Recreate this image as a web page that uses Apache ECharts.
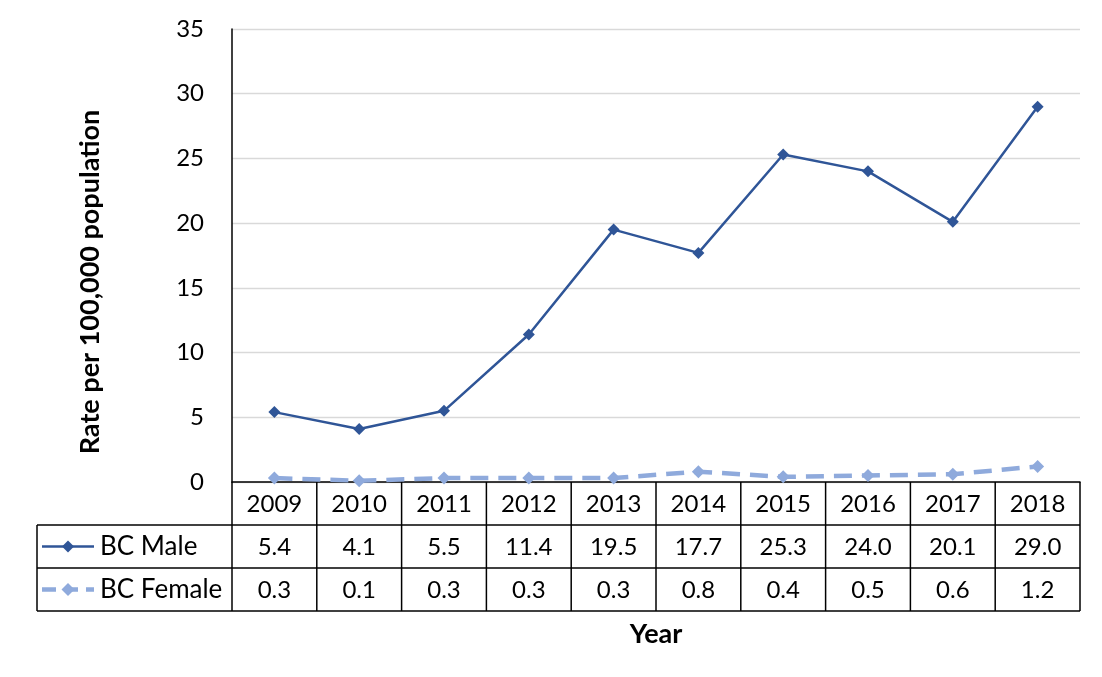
<!DOCTYPE html>
<html><head><meta charset="utf-8">
<script src="https://cdn.jsdelivr.net/npm/echarts@6/dist/echarts.min.js"></script>
<style>html,body{margin:0;padding:0;background:#fff}#c{width:1102px;height:677px}</style>
</head><body><div id="c"></div>
<script>
var years = ['2009','2010','2011','2012','2013','2014','2015','2016','2017','2018'];
var male = [5.4, 4.1, 5.5, 11.4, 19.5, 17.7, 25.3, 24.0, 20.1, 29.0];
var female = [0.3, 0.1, 0.3, 0.3, 0.3, 0.8, 0.4, 0.5, 0.6, 1.2];
var seriesNames = ['BC Male', 'BC Female'];

var FONT = 'Lato, "Open Sans", sans-serif';
var MALE_C = '#2F5597', FEM_C = '#8FAADC';
var chart = echarts.init(document.getElementById('c'));
var lbl = {fontSize: 24, color: '#000', fontFamily: FONT};
function xAx(off, fmt, extra) {
  var a = {
    type: 'category', data: years, position: 'bottom', offset: off, boundaryGap: true,
    axisLine: {show: false}, axisTick: {show: false}, splitLine: {show: false},
    axisLabel: Object.assign({margin: 10, formatter: fmt, interval: 0}, lbl)
  };
  return Object.assign(a, extra || {});
}
chart.setOption({
  animation: false,
  grid: {left: 232, right: 22, top: 29, bottom: 195},
  xAxis: [
    xAx(0, function(v){return v;}, {
      axisLine: {show: true, lineStyle: {color: '#000', width: 1.5}},
      name: 'Year', nameLocation: 'middle', nameGap: 139,
      nameTextStyle: {fontSize: 27, fontWeight: 'bold', color: '#000', fontFamily: FONT}
    }),
    xAx(43, function(v, i){return male[i].toFixed(1);}),
    xAx(86, function(v, i){return female[i].toFixed(1);})
  ],
  yAxis: {
    type: 'value', min: 0, max: 35, interval: 5,
    axisLine: {show: true, lineStyle: {color: '#000', width: 1.5}},
    axisTick: {show: false},
    splitLine: {lineStyle: {color: '#d9d9d9', width: 1.3}},
    axisLabel: Object.assign({margin: 28}, lbl),
    name: 'Rate per 100,000 population', nameLocation: 'middle', nameGap: 128,
    nameTextStyle: {fontSize: 27, fontWeight: 'bold', color: '#000', fontFamily: FONT,
      padding: [0, 53, 0, 0]}
  },
  series: [
    {name: seriesNames[0], type: 'line', data: male, xAxisIndex: 0,
     symbol: 'diamond', symbolSize: 12, itemStyle: {color: MALE_C},
     lineStyle: {color: MALE_C, width: 2.5}},
    {name: seriesNames[1], type: 'line', data: female, xAxisIndex: 0,
     symbol: 'diamond', symbolSize: 13, itemStyle: {color: FEM_C},
     lineStyle: {color: FEM_C, width: 4.5, type: [18, 10]}}
  ]
});

// table grid lines & legend keys, positioned from the chart's own scales
var x0 = chart.convertToPixel({xAxisIndex: 0}, 0);
var x1 = chart.convertToPixel({xAxisIndex: 0}, 1);
var bw = x1 - x0;
var yb = chart.convertToPixel({yAxisIndex: 0}, 0);
var rowH = 43, leftX = 37;
var right = x0 + bw * (years.length - 0.5);
var g = [];
var ls = {stroke: '#000', lineWidth: 1.5};
for (var i = 0; i <= years.length; i++) {
  var xx = x0 - bw / 2 + bw * i;
  g.push({type: 'line', shape: {x1: xx, y1: yb, x2: xx, y2: yb + 3 * rowH}, style: ls, z: 10});
}
for (var r = 1; r <= 3; r++) {
  g.push({type: 'line', shape: {x1: leftX, y1: yb + r * rowH, x2: right, y2: yb + r * rowH}, style: ls, z: 10});
}
g.push({type: 'line', shape: {x1: leftX, y1: yb + rowH, x2: leftX, y2: yb + 3 * rowH}, style: ls, z: 10});
function diamond(cx, cy, s) {
  return [[cx, cy - s], [cx + s, cy], [cx, cy + s], [cx - s, cy]];
}
var keys = [
  {c: MALE_C, w: 2.5, dash: null, s: 6},
  {c: FEM_C, w: 4.5, dash: [14, 8], s: 6.5}
];
keys.forEach(function(k, j) {
  var cy = yb + rowH * (j + 1.5);
  g.push({type: 'line', shape: {x1: 42, y1: cy, x2: 94, y2: cy},
    style: {stroke: k.c, lineWidth: k.w, lineDash: k.dash}, z: 10});
  g.push({type: 'polygon', shape: {points: diamond(68, cy, k.s)}, style: {fill: k.c}, z: 11});
  g.push({type: 'text', x: 100, y: cy, style: {text: seriesNames[j], fontSize: 26, fontFamily: FONT,
    fill: '#000', textVerticalAlign: 'middle', verticalAlign: 'middle'}, z: 11});
});
chart.setOption({graphic: g});
</script></body></html>
